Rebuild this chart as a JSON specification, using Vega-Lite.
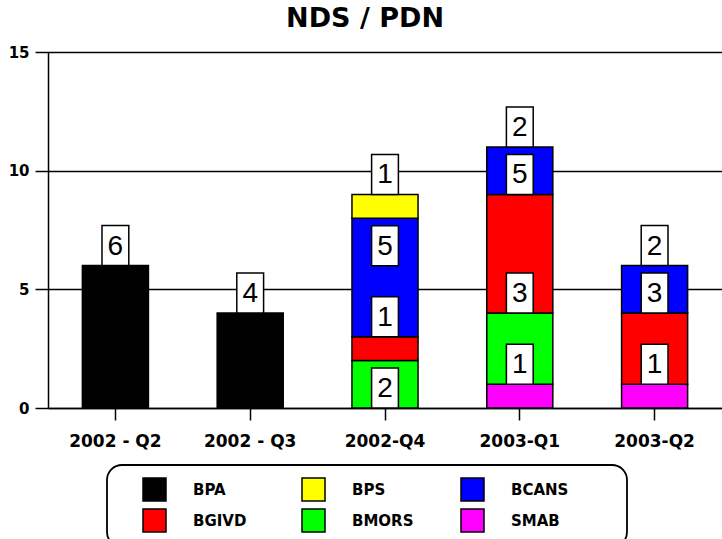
{
  "$schema": "https://vega.github.io/schema/vega-lite/v6.json",
  "width": 674,
  "height": 356,
  "autosize": {"type": "none"},
  "padding": {"left": 48, "top": 52, "right": 0, "bottom": 131},
  "background": "white",
  "config": {"legend": {"strokeWidth": 1.8}},
  "title": {"text": "NDS / PDN", "font": "DejaVu Sans", "fontSize": 27, "fontWeight": "bold", "color": "black", "anchor": "middle", "frame": "bounds", "offset": 12},
  "data": {
    "values": [
      {"quarter": "2002 - Q2", "series": "BPA", "value": 6},
      {"quarter": "2002 - Q3", "series": "BPA", "value": 4},
      {"quarter": "2002-Q4", "series": "BMORS", "value": 2},
      {"quarter": "2002-Q4", "series": "BGIVD", "value": 1},
      {"quarter": "2002-Q4", "series": "BCANS", "value": 5},
      {"quarter": "2002-Q4", "series": "BPS", "value": 1},
      {"quarter": "2003-Q1", "series": "SMAB", "value": 1},
      {"quarter": "2003-Q1", "series": "BMORS", "value": 3},
      {"quarter": "2003-Q1", "series": "BGIVD", "value": 5},
      {"quarter": "2003-Q1", "series": "BCANS", "value": 2},
      {"quarter": "2003-Q2", "series": "SMAB", "value": 1},
      {"quarter": "2003-Q2", "series": "BGIVD", "value": 3},
      {"quarter": "2003-Q2", "series": "BCANS", "value": 2}
    ]
  },
  "transform": [
    {"stack": "value", "groupby": ["quarter"], "as": ["y0", "y1"]},
    {"window": [{"op": "lead", "field": "value", "as": "next"}], "groupby": ["quarter"], "sort": [{"field": "y0", "order": "ascending"}]}
  ],
  "encoding": {
    "x": {
      "field": "quarter",
      "type": "nominal",
      "sort": null,
      "scale": {"paddingInner": 0.51, "paddingOuter": 0.255},
      "axis": {"title": null, "labelAngle": 0, "labelFont": "DejaVu Sans", "labelFontWeight": "bold", "labelFontSize": 17, "labelColor": "black", "labelPadding": 13, "tickSize": 12, "tickColor": "black", "tickWidth": 1.5, "domainColor": "black", "domainWidth": 1.5, "grid": false}
    }
  },
  "layer": [
    {
      "mark": {"type": "bar", "stroke": "black", "strokeWidth": 1.5, "opacity": 1},
      "encoding": {
        "y": {
          "field": "y1",
          "type": "quantitative",
          "scale": {"domain": [0, 15], "nice": false},
          "axis": {"title": null, "values": [0, 5, 10, 15], "grid": true, "gridColor": "black", "gridWidth": 1.5, "gridOpacity": 1, "tickSize": 13, "tickColor": "black", "tickWidth": 1.5, "domainColor": "black", "domainWidth": 1.5, "labelFont": "DejaVu Sans", "labelFontWeight": "bold", "labelFontSize": 15, "labelColor": "black", "labelPadding": 6}
        },
        "y2": {"field": "y0"},
        "color": {
          "field": "series",
          "type": "nominal",
          "scale": {"domain": ["BPA", "BPS", "BCANS", "BGIVD", "BMORS", "SMAB"], "range": ["#000000", "#ffff00", "#0000ff", "#ff0000", "#00ff00", "#ff00ff"]},
          "legend": {"orient": "none", "legendX": 59, "legendY": 413, "direction": "horizontal", "columns": 3, "title": "\u00a0", "titleOrient": "right", "titlePadding": 47, "titleFontSize": 8, "symbolType": "square", "symbolSize": 529, "symbolOffset": 23, "symbolStrokeColor": "black", "symbolStrokeWidth": 1.5, "symbolOpacity": 1, "labelFont": "DejaVu Sans", "labelFontWeight": "bold", "labelFontSize": 15, "labelColor": "black", "labelOffset": 26, "columnPadding": 23, "rowPadding": 2, "strokeColor": "black", "cornerRadius": 15, "padding": 12, "gridAlign": "all", "fillColor": "white"}
        }
      }
    },
    {
      "transform": [{"filter": "datum.next == null || datum.next >= 1.65"}],
      "encoding": {
        "y": {"field": "y1", "type": "quantitative"}
      },
      "layer": [
        {"mark": {"type": "point", "shape": "M-0.67,-1V1H0.67V-1Z", "size": 1600, "filled": true, "fill": "white", "stroke": "black", "strokeWidth": 1.5, "opacity": 1, "yOffset": -20}},
        {"mark": {"type": "text", "font": "Liberation Sans", "fontSize": 28, "color": "black", "baseline": "middle", "align": "center", "yOffset": -19}, "encoding": {"text": {"field": "value", "type": "quantitative"}}}
      ]
    },
    {
      "transform": [{"filter": "datum.next != null && datum.next < 1.65"}],
      "encoding": {
        "y": {"field": "y1", "type": "quantitative"}
      },
      "layer": [
        {"mark": {"type": "point", "shape": "M-0.67,-1V1H0.67V-1Z", "size": 1600, "filled": true, "fill": "white", "stroke": "black", "strokeWidth": 1.5, "opacity": 1, "yOffset": 27.5}},
        {"mark": {"type": "text", "font": "Liberation Sans", "fontSize": 28, "color": "black", "baseline": "middle", "align": "center", "yOffset": 28.5}, "encoding": {"text": {"field": "value", "type": "quantitative"}}}
      ]
    }
  ]
}
